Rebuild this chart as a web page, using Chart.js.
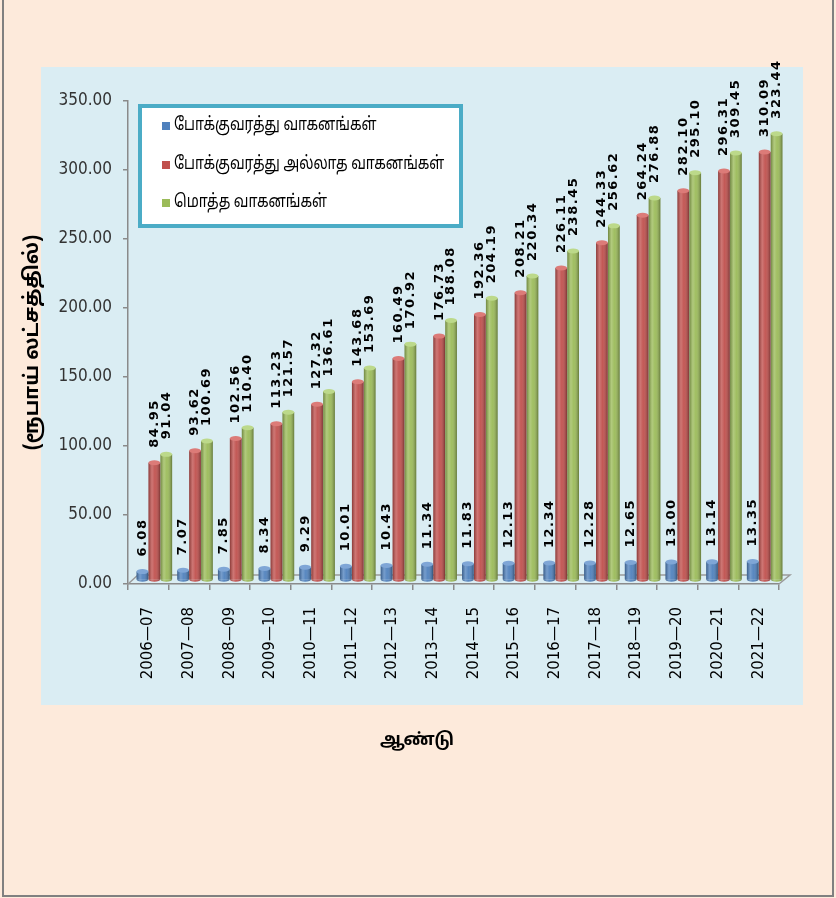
<!DOCTYPE html>
<html>
<head>
<meta charset="utf-8">
<script src="https://cdn.jsdelivr.net/npm/chart.js@4.4.1/dist/chart.umd.min.js"></script>
<style>
  html, body { margin: 0; padding: 0; background: #fdeadb; }
  #wrap { width: 836px; height: 898px; }
  canvas { display: block; }
</style>
</head>
<body>
<div id="wrap"><canvas id="chart" width="836" height="898"></canvas></div>
<script>
const years = ['2006—07', '2007—08', '2008—09', '2009—10', '2010—11', '2011—12', '2012—13', '2013—14',
  '2014—15', '2015—16', '2016—17', '2017—18', '2018—19', '2019—20', '2020—21', '2021—22']
const transport = [6.08, 7.07, 7.85, 8.34, 9.29, 10.01, 10.43, 11.34, 11.83, 12.13, 12.34, 12.28, 12.65, 13.00, 13.14, 13.35]
const nonTransport = [84.95, 93.62, 102.56, 113.23, 127.32, 143.68, 160.49, 176.73, 192.36, 208.21, 226.11, 244.33, 264.24, 282.10, 296.31, 310.09]
const total = [91.04, 100.69, 110.40, 121.57, 136.61, 153.69, 170.92, 188.08, 204.19, 220.34, 238.45, 256.62, 276.88, 295.10, 309.45, 323.44]
const seriesNames = ['போக்குவரத்து வாகனங்கள்', 'போக்குவரத்து அல்லாத வாகனங்கள்', 'மொத்த வாகனங்கள்']
const seriesColors = ['#4f81bd', '#c0504d', '#9bbb59']
const capColors = ['#7fa6d6', '#dc7b78', '#bcd98a']
const yTitle = '(ரூபாய் லட்சத்தில்)'
const xTitle = 'ஆண்டு'
const yMax = 350
const yStep = 50

const tamilFont = '"Noto Sans Tamil", "Lohit Tamil", "Noto Sans", sans-serif'

// page background, border and the light blue chart panel
const panelPlugin = {
  id: 'panel',
  beforeDraw(chart) {
    const ctx = chart.ctx
    ctx.save()
    ctx.fillStyle = '#fdeadb'
    ctx.fillRect(0, 0, chart.width, chart.height)
    ctx.fillStyle = '#daedf3'
    ctx.fillRect(41, 67, 762, 638)
    ctx.strokeStyle = '#808080'
    ctx.lineWidth = 2
    ctx.beginPath()
    ctx.moveTo(3, 0)
    ctx.lineTo(3, 896)
    ctx.lineTo(833, 896)
    ctx.lineTo(833, 0)
    ctx.stroke()
    ctx.restore()
  },
  afterDraw(chart) {
    // x axis title, centred under the page like the original
    const ctx = chart.ctx
    ctx.save()
    ctx.fillStyle = '#000'
    ctx.font = 'bold 17px ' + tamilFont
    ctx.textAlign = 'center'
    ctx.textBaseline = 'middle'
    ctx.fillText(xTitle, 417, 742)
    ctx.restore()
  }
}

// 3d floor under the bars
const floorPlugin = {
  id: 'floor',
  beforeDatasetsDraw(chart) {
    const { left, right, bottom } = chart.chartArea
    const ctx = chart.ctx
    ctx.save()
    ctx.strokeStyle = '#9a9a9a'
    ctx.lineWidth = 1.5
    ctx.beginPath()
    ctx.moveTo(left, bottom)
    ctx.lineTo(left + 10, bottom - 9)
    ctx.lineTo(right + 11, bottom - 9)
    ctx.lineTo(right, bottom)
    ctx.stroke()
    ctx.restore()
  }
}

// cylinder shading, caps and rotated value labels; bars sit a bit back on the floor
const cylinderPlugin = {
  id: 'cylinders',
  beforeDatasetsDraw(chart) {
    chart.ctx.save()
    chart.ctx.translate(6, -4)
  },
  afterDatasetsDraw(chart) {
    const ctx = chart.ctx
    chart.data.datasets.forEach((ds, di) => {
      const meta = chart.getDatasetMeta(di)
      meta.data.forEach((bar, i) => {
        const { x, y, base, width } = bar.getProps(['x', 'y', 'base', 'width'], true)
        const l = x - width / 2
        ctx.save()
        const g = ctx.createLinearGradient(l, 0, l + width, 0)
        g.addColorStop(0, 'rgba(0,0,0,0.28)')
        g.addColorStop(0.3, 'rgba(255,255,255,0.22)')
        g.addColorStop(0.55, 'rgba(255,255,255,0.05)')
        g.addColorStop(1, 'rgba(0,0,0,0.35)')
        ctx.fillStyle = g
        ctx.fillRect(l, y, width, base - y)
        ctx.fillStyle = seriesColors[di]
        ctx.beginPath()
        ctx.ellipse(x, base, width / 2, 2.5, 0, 0, Math.PI)
        ctx.fill()
        ctx.fillStyle = g
        ctx.fill()
        ctx.fillStyle = capColors[di]
        ctx.beginPath()
        ctx.ellipse(x, y, width / 2, 2.5, 0, 0, Math.PI * 2)
        ctx.fill()
        ctx.restore()

        ctx.save()
        ctx.translate(x, y - 15)
        ctx.rotate(-Math.PI / 2)
        ctx.fillStyle = '#000'
        ctx.font = 'bold 13px "DejaVu Sans", sans-serif'
        ctx.letterSpacing = '1.5px'
        ctx.textAlign = 'left'
        ctx.textBaseline = 'middle'
        ctx.fillText(ds.data[i].toFixed(2), 0, 0)
        ctx.restore()
      })
    })
    ctx.restore()
  }
}

// boxed legend drawn over the plot, top left
const boxLegendPlugin = {
  id: 'boxLegend',
  afterDraw(chart) {
    const ctx = chart.ctx
    ctx.save()
    ctx.fillStyle = '#ffffff'
    ctx.fillRect(140, 106, 321, 120)
    ctx.strokeStyle = '#4bacc6'
    ctx.lineWidth = 4
    ctx.strokeRect(140, 106, 321, 120)
    const rows = [126, 165, 203]
    chart.data.datasets.forEach((ds, i) => {
      ctx.fillStyle = seriesColors[i]
      ctx.fillRect(162, rows[i] - 4, 8, 8)
      ctx.save()
      ctx.translate(174, rows[i])
      ctx.scale(0.78, 1)
      ctx.fillStyle = '#000'
      ctx.font = '18px ' + tamilFont
      ctx.textAlign = 'left'
      ctx.textBaseline = 'middle'
      ctx.fillText(ds.label, 0, 0)
      ctx.restore()
    })
    ctx.restore()
  }
}

const chart = new Chart(document.getElementById('chart'), {
  type: 'bar',
  data: {
    labels: years,
    datasets: [
      { label: seriesNames[0], data: transport, backgroundColor: seriesColors[0] },
      { label: seriesNames[1], data: nonTransport, backgroundColor: seriesColors[1] },
      { label: seriesNames[2], data: total, backgroundColor: seriesColors[2] },
    ],
  },
  options: {
    responsive: false,
    animation: false,
    events: [],
    datasets: {
      bar: { categoryPercentage: 0.88, barPercentage: 0.98, borderWidth: 0 }
    },
    layout: { padding: { top: 101, right: 57, left: 0, bottom: 0 } },
    plugins: {
      legend: { display: false },
      tooltip: { enabled: false },
    },
    scales: {
      x: {
        afterFit: scale => { scale.height = 314 },
        grid: { offset: true, drawOnChartArea: false, tickLength: 6, color: '#8a8a8a', lineWidth: 1.5 },
        border: { color: '#8a8a8a', width: 1.5 },
        ticks: {
          minRotation: 90,
          maxRotation: 90,
          autoSkip: false,
          padding: 17,
          color: '#000',
          font: { family: '"DejaVu Sans", sans-serif', size: 15 },
        },
      },
      y: {
        min: 0,
        max: yMax,
        afterFit: scale => { scale.width = 128 },
        grid: { drawOnChartArea: false, tickLength: 5, color: '#8a8a8a', lineWidth: 1.5 },
        border: { color: '#8a8a8a', width: 1.5 },
        ticks: {
          stepSize: yStep,
          padding: 11,
          color: '#333',
          font: { family: '"DejaVu Sans Condensed", sans-serif', size: 17 },
          callback: v => v.toFixed(2),
        },
        title: {
          display: true,
          text: yTitle,
          color: '#000',
          font: { family: tamilFont, size: 20, weight: 'bold' },
          padding: { top: 22, bottom: 0 },
        },
      },
    },
  },
  plugins: [panelPlugin, floorPlugin, cylinderPlugin, boxLegendPlugin],
})
</script>
</body>
</html>
